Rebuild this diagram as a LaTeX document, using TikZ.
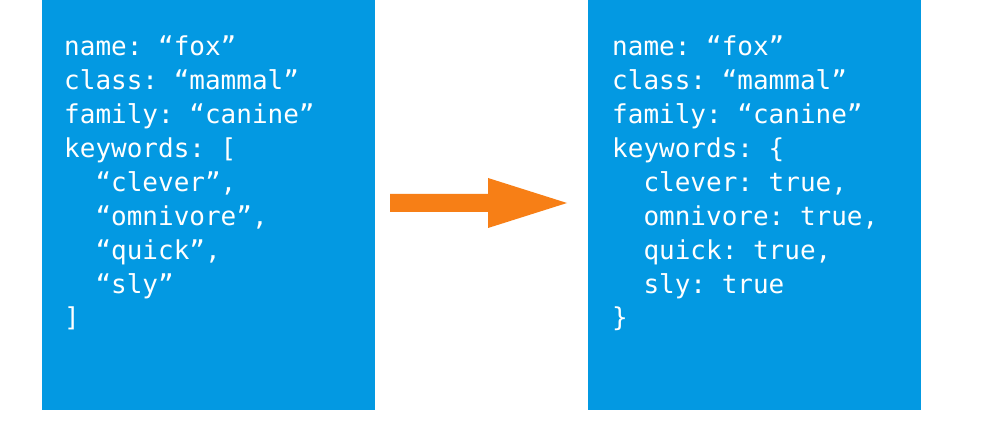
\documentclass[tikz,border=0pt]{standalone}
\usepackage{fontspec}
\setmonofont{DejaVu Sans Mono}
\begin{document}
\begin{tikzpicture}[x=1pt,y=1pt,
  panel/.style={fill=boxblue,draw=none},
  code/.style={anchor=base west,align=left,text=white,inner sep=0pt,
    font=\ttfamily\fontsize{26}{33.9}\selectfont}]
\definecolor{boxblue}{HTML}{0399E2}
\definecolor{arrorange}{HTML}{F77F16}
\useasboundingbox (0,0) rectangle (1000,420);
\fill[white] (0,0) rectangle (1000,420);
\path[panel] (42,10) rectangle (375,420);
\path[panel] (588,10) rectangle (921,420);
\node[code] (left) at (64,93) {name: “fox”\\class: “mammal”\\family: “canine”\\keywords: [\\\ \ “clever”,\\\ \ “omnivore”,\\\ \ “quick”,\\\ \ “sly”\\]};
\node[code] (right) at (612,93) {name: “fox”\\class: “mammal”\\family: “canine”\\keywords: \{\\\ \ clever: true,\\\ \ omnivore: true,\\\ \ quick: true,\\\ \ sly: true\\\}};
\fill[arrorange] (390,208) -- (488,208) -- (488,242) -- (567,217) -- (488,192) -- (488,226) -- (390,226) -- cycle;
\end{tikzpicture}
\end{document}
